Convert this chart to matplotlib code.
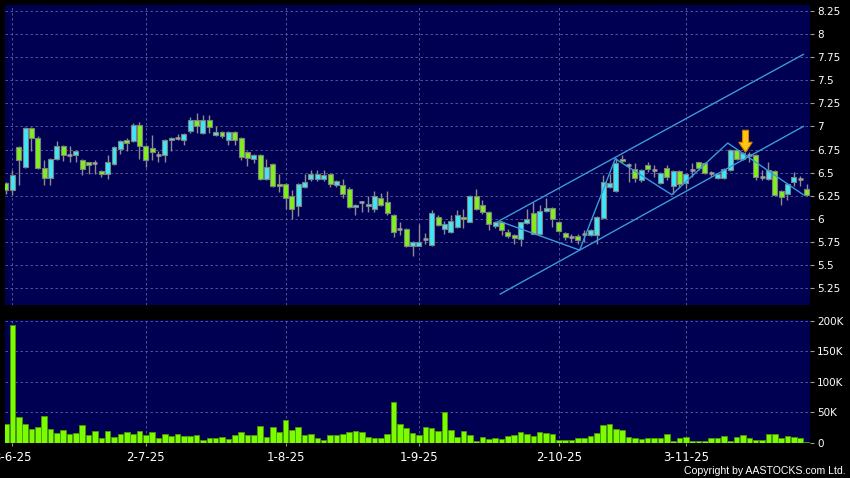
import numpy as np
import matplotlib
matplotlib.use("Agg")
import matplotlib.pyplot as plt
import matplotlib.transforms as mtransforms
from matplotlib.patches import FancyArrow

# daily OHLC, one entry per trading day
opens = [6.39, 6.31, 6.78, 6.56, 6.98, 6.88, 6.55, 6.44, 6.65, 6.79,
         6.69, 6.69, 6.64, 6.61, 6.60, 6.52, 6.48, 6.59, 6.76, 6.85,
         6.84, 7.02, 6.79, 6.77, 6.69, 6.69, 6.85, 6.88, 6.85, 6.95,
         7.07, 6.93, 7.07, 6.91, 6.94, 6.85, 6.94, 6.88, 6.72, 6.65,
         6.69, 6.43, 6.59, 6.38, 6.38, 6.25, 6.14, 6.34, 6.43, 6.43,
         6.43, 6.49, 6.37, 6.37, 6.32, 6.13, 6.18, 6.14, 6.11, 6.23,
         6.18, 6.04, 5.89, 5.89, 5.71, 5.71, 5.78, 5.72, 6.02, 5.89,
         5.86, 5.91, 6.02, 5.97, 6.25, 6.15, 6.07, 5.92, 5.97, 5.86,
         5.82, 5.78, 5.95, 6.06, 5.83, 6.08, 6.12, 5.97, 5.85, 5.80,
         5.81, 5.84, 5.82, 5.82, 6.01, 6.34, 6.30, 6.65, 6.58, 6.54,
         6.42, 6.58, 6.53, 6.39, 6.55, 6.35, 6.52, 6.39, 6.53, 6.61,
         6.60, 6.50, 6.44, 6.44, 6.53, 6.74, 6.65, 6.69, 6.69, 6.45,
         6.43, 6.52, 6.30, 6.27, 6.40, 6.43, 6.32]
highs = [6.40, 6.53, 6.79, 6.99, 6.99, 6.90, 6.64, 6.66, 6.84, 6.80,
         6.79, 6.74, 6.65, 6.62, 6.64, 6.53, 6.69, 6.79, 6.85, 6.88,
         7.04, 7.05, 6.80, 6.91, 6.73, 6.86, 6.89, 6.92, 6.93, 7.10,
         7.14, 7.12, 7.12, 7.00, 6.95, 6.95, 6.95, 6.89, 6.73, 6.70,
         6.70, 6.65, 6.60, 6.48, 6.39, 6.31, 6.39, 6.48, 6.53, 6.53,
         6.53, 6.50, 6.42, 6.43, 6.34, 6.16, 6.19, 6.25, 6.30, 6.28,
         6.30, 6.05, 5.97, 5.90, 5.76, 5.94, 5.85, 6.09, 6.04, 5.98,
         6.04, 6.10, 6.11, 6.26, 6.32, 6.20, 6.08, 5.98, 5.98, 5.89,
         5.84, 5.97, 6.11, 6.18, 6.15, 6.22, 6.13, 5.98, 5.86, 5.84,
         5.84, 5.88, 5.89, 6.03, 6.47, 6.49, 6.66, 6.69, 6.60, 6.60,
         6.54, 6.62, 6.58, 6.51, 6.58, 6.53, 6.53, 6.50, 6.60, 6.62,
         6.61, 6.52, 6.50, 6.55, 6.76, 6.75, 6.72, 6.72, 6.70, 6.53,
         6.61, 6.53, 6.31, 6.39, 6.51, 6.46, 6.38]
lows = [6.27, 6.26, 6.37, 6.55, 6.73, 6.54, 6.37, 6.37, 6.64, 6.63,
        6.62, 6.61, 6.47, 6.49, 6.48, 6.45, 6.43, 6.58, 6.70, 6.73,
        6.83, 6.65, 6.56, 6.64, 6.61, 6.61, 6.73, 6.85, 6.80, 6.93,
        6.93, 6.92, 6.93, 6.90, 6.88, 6.80, 6.80, 6.64, 6.57, 6.60,
        6.42, 6.42, 6.34, 6.29, 6.11, 6.00, 6.03, 6.33, 6.41, 6.41,
        6.41, 6.34, 6.34, 6.22, 6.12, 6.04, 6.07, 6.07, 6.07, 6.14,
        6.04, 5.80, 5.82, 5.69, 5.60, 5.70, 5.73, 5.71, 5.92, 5.84,
        5.85, 5.90, 5.90, 5.96, 6.10, 6.05, 5.88, 5.90, 5.82, 5.79,
        5.73, 5.71, 5.94, 5.83, 5.82, 6.07, 5.91, 5.86, 5.77, 5.75,
        5.73, 5.75, 5.81, 5.73, 6.00, 6.33, 6.29, 6.60, 6.40, 6.40,
        6.40, 6.51, 6.45, 6.38, 6.42, 6.27, 6.33, 6.33, 6.45, 6.53,
        6.48, 6.45, 6.43, 6.43, 6.52, 6.64, 6.64, 6.62, 6.42, 6.42,
        6.42, 6.25, 6.15, 6.20, 6.36, 6.35, 6.25]
closes = [6.31, 6.47, 6.64, 6.98, 6.88, 6.55, 6.44, 6.65, 6.79, 6.69,
          6.69, 6.73, 6.54, 6.58, 6.60, 6.48, 6.61, 6.78, 6.84, 6.82,
          7.02, 6.79, 6.64, 6.72, 6.69, 6.85, 6.88, 6.88, 6.92, 7.07,
          7.00, 7.07, 6.99, 6.94, 6.90, 6.94, 6.85, 6.67, 6.66, 6.69,
          6.43, 6.56, 6.35, 6.35, 6.23, 6.11, 6.38, 6.40, 6.48, 6.49,
          6.47, 6.38, 6.41, 6.27, 6.13, 6.15, 6.18, 6.16, 6.25, 6.15,
          6.06, 5.86, 5.89, 5.70, 5.75, 5.75, 5.78, 6.06, 5.93, 5.94,
          5.98, 6.04, 6.00, 6.25, 6.11, 6.07, 5.94, 5.97, 5.88, 5.81,
          5.79, 5.96, 6.00, 5.84, 6.08, 6.12, 6.00, 5.87, 5.80, 5.80,
          5.77, 5.84, 5.88, 6.02, 6.40, 6.39, 6.60, 6.63, 6.58, 6.44,
          6.53, 6.54, 6.53, 6.50, 6.45, 6.52, 6.38, 6.48, 6.53, 6.55,
          6.50, 6.50, 6.49, 6.54, 6.74, 6.65, 6.71, 6.69, 6.45, 6.45,
          6.53, 6.26, 6.24, 6.38, 6.45, 6.43, 6.26]
# volume in thousands of shares
volume_k = [31.5, 193, 42, 31.5, 23, 27, 44, 23, 17, 22,
            15, 16, 30, 12.5, 20, 9, 19.5, 10, 15, 18.5,
            14.7, 19.5, 13.6, 17.4, 9, 14, 11.4, 14, 12, 11,
            12.5, 5, 7.6, 7.6, 10, 6, 13, 18, 13, 13,
            27.7, 10, 26, 17.4, 37.5, 21, 26, 12.5, 15, 9,
            5, 12.5, 12.5, 14.7, 18, 20, 17.4, 10, 8.7, 8.7,
            14.7, 67, 31, 25, 16, 13.6, 26, 24.5, 20, 50.5,
            21.7, 9.8, 20, 12.5, 3.8, 10, 7, 8.7, 7, 11.4,
            13, 18.5, 14.7, 11, 18, 16, 14.7, 5, 4.3, 4.3,
            8.7, 8.7, 11.4, 16, 30, 31.5, 23, 21, 10, 8,
            6.5, 8.7, 7.6, 8, 14.7, 3.8, 8.7, 10, 3.8, 3.8,
            3.8, 8.7, 7.6, 12, 3.8, 10, 12.5, 8, 4.3, 4.3,
            14, 14, 9, 11, 10, 8, 2]

date_labels = ["3-6-25", "2-7-25", "1-8-25", "1-9-25", "2-10-25", "3-11-25"]
date_idx = [1, 22, 44, 65, 87, 107]
price_ticks = [5.25, 5.5, 5.75, 6, 6.25, 6.5, 6.75, 7, 7.25, 7.5, 7.75, 8, 8.25]
vol_ticks = [0, 50, 100, 150, 200]

# hand-drawn channel and zigzag (bar index, price)
upper_x, upper_y = [77.3, 125.5], [5.965, 7.78]
lower_x, lower_y = [77.8, 125.5], [5.185, 7.0]
zigzag_x = [77.8, 90.3, 95.9, 104.8, 113.6, 125.5]
zigzag_y = [5.97, 5.66, 6.65, 6.26, 6.82, 6.26]
arrow_idx, arrow_price = 116.4, 6.72

NAVY = "#000052"
CYAN = "#3ee6f7"
LIME = "#7ef01e"
GRID = "#62629e"
LINE = "#3a9ad9"

fig = plt.figure(figsize=(8.5, 4.78), dpi=100, facecolor="black")
ax = fig.add_axes([5 / 850, 1 - 305 / 478, 805 / 850, 300 / 478], facecolor=NAVY)
axv = fig.add_axes([5 / 850, 35 / 478, 805 / 850, 123 / 478], facecolor=NAVY, sharex=ax)

x = np.arange(len(opens))
o, h, l, c = (np.array(a) for a in (opens, highs, lows, closes))
up = c > o
down = c < o
flat = c == o

# candles
ax.vlines(x, l, h, color="#8c8c8c", lw=1, zorder=3)
ax.bar(x[up], (c - o)[up], bottom=o[up], width=0.78, color=CYAN,
       edgecolor="#808080", lw=0.8, zorder=4)
ax.bar(x[down], (o - c)[down], bottom=c[down], width=0.78, color=LIME,
       edgecolor="#808080", lw=0.8, zorder=4)
ax.hlines(c[flat], x[flat] - 0.39, x[flat] + 0.39, color="#a0a0a0", lw=1.8, zorder=4)

# trend channel
ax.plot(upper_x, upper_y, color=LINE, lw=1, zorder=5)
ax.plot(lower_x, lower_y, color=LINE, lw=1, zorder=5)
ax.plot(zigzag_x, zigzag_y, color=LINE, lw=1, zorder=5)

# yellow marker arrow (sized in inches, anchored at its tip)
arrow_trans = fig.dpi_scale_trans + mtransforms.ScaledTranslation(
    arrow_idx, arrow_price, ax.transData)
ax.add_patch(FancyArrow(0, 0.22, 0, -0.22, width=0.06, head_width=0.135,
                        head_length=0.1, length_includes_head=True,
                        fc="#ffc414", ec="#d08000", lw=0.8,
                        transform=arrow_trans, zorder=6))

ax.set_xlim(-0.16, 126.55)
ax.set_ylim(5.066, 8.315)
ax.set_yticks(price_ticks)
ax.set_yticklabels([f"{t:g}" for t in price_ticks])

# volume
axv.bar(x, volume_k, width=0.88, color="#7cfc00", edgecolor="#4a9a00", lw=0.6, zorder=3)
axv.set_ylim(0, 201.6)
axv.set_yticks(vol_ticks)
axv.set_yticklabels(["0" if t == 0 else f"{t}K" for t in vol_ticks])
axv.set_xticks(date_idx)
axv.set_xticklabels(date_labels)

for a in (ax, axv):
    for s in a.spines.values():
        s.set_visible(False)
    a.yaxis.tick_right()
    a.tick_params(axis="y", colors="#9a9a9a", labelcolor="white", length=3,
                  width=0.8, pad=2, labelsize=7.5)
    a.grid(True, color=GRID, lw=0.6, linestyle=(0, (3, 3)), zorder=0)
    a.set_axisbelow(True)

ax.tick_params(axis="x", length=0, labelbottom=False)
axv.tick_params(axis="x", colors="#9a9a9a", labelcolor="white", length=2.5,
                width=0.8, pad=3, labelsize=8.5)
axv.yaxis.grid(True)
axv.yaxis.get_gridlines()[0].set_visible(False)

fig.text(846 / 850, 1 - 471.5 / 478, "Copyright by AASTOCKS.com Ltd.",
         ha="right", va="center", color="white", fontsize=7.6,
         family=["Liberation Sans", "DejaVu Sans"])

fig.savefig("out.png", dpi=100, facecolor="black")
